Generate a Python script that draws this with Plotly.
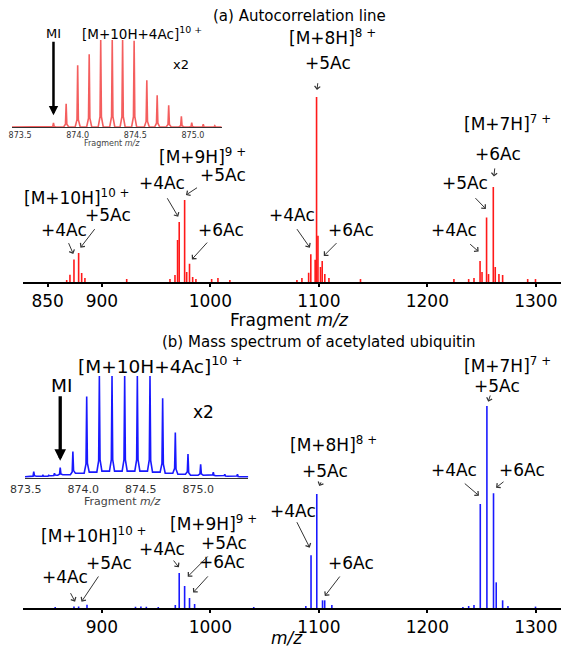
import plotly.graph_objects as go

W, H = 561, 650
FONT = "DejaVu Sans"

# ---------------- data ----------------
# (a) autocorrelation line: peak positions (m/z) and relative intensities
A_MZ = [867.6, 870.6, 874.3, 878.6, 881.4, 884.4, 922.9,
        962.8, 967.4, 969.8, 971.3, 976.3, 978.2, 980.8, 983.7, 986.7, 1001.2, 1007.0, 1018.0,
        1079.8, 1084.4, 1090.6, 1092.6, 1096.6, 1097.9, 1099.2, 1101.5, 1103.1, 1105.5, 1109.3, 1138.4,
        1224.5, 1238.1, 1243.0, 1248.6, 1250.4, 1254.6, 1256.4, 1260.8, 1262.6, 1266.0, 1269.4, 1292.5, 1299.7]
A_INT = [1.1, 3.9, 12.2, 15.7, 4.9, 2.2, 1.6,
         1.6, 3.8, 22.7, 32.4, 44.3, 5.4, 9.9, 2.7, 1.6, 1.6, 2.2, 1.1,
         1.1, 2.2, 5.0, 15.0, 12.0, 100.0, 25.0, 8.1, 11.4, 4.3, 2.2, 1.6,
         1.6, 1.6, 2.2, 11.4, 5.4, 34.8, 4.3, 51.4, 8.1, 4.3, 3.8, 1.6, 1.6]

# (b) mass spectrum of acetylated ubiquitin
B_MZ = [857.0, 874.3, 878.6, 886.3, 931.0, 936.0, 941.0, 952.0,
        967.7, 971.3, 976.3, 980.8, 985.5, 1040.0,
        1088.0, 1092.8, 1098.1, 1103.4, 1105.4, 1112.0,
        1232.8, 1238.1, 1243.0, 1248.8, 1254.9, 1261.0, 1263.5, 1269.4, 1274.3, 1299.7]
B_INT = [0.5, 0.8, 0.8, 1.6, 0.6, 0.7, 0.6, 0.5,
         1.5, 17.3, 10.9, 5.0, 2.0, 0.5,
         1.0, 26.1, 56.4, 3.8, 3.8, 1.5,
         0.5, 1.0, 1.5, 51.5, 100.0, 56.8, 12.7, 3.8, 1.0, 0.7]

# insets: isotope distribution of [M+10H+4Ac]10+ (x2)
A_ISO_MZ = [873.79, 873.90, 874.00, 874.10, 874.20, 874.30, 874.39, 874.49,
            874.60, 874.69, 874.79, 874.90, 874.99, 875.09, 875.19]
A_ISO_INT = [4.6, 26.8, 71.0, 83.6, 100, 100, 100, 99.0, 53.7, 36.4, 25.0, 12.3, 5.0, 3.1, 1.5]

B_ISO_MZ = [873.57, 873.65, 873.70, 873.75, 873.80, 873.91, 874.03, 874.14, 874.25, 874.36,
            874.47, 874.58, 874.69, 874.80, 874.91, 875.02, 875.13, 875.23, 875.34]
B_ISO_INT = [6.5, 3.0, 3.0, 5.0, 10.5, 26.1, 79.9, 100, 100, 100,
             100, 100, 78.2, 44.7, 23.8, 13.7, 5.9, 3.9, 3.9]
B_ISO_FLOOR = [1.5, 2.0, 2.0, 2.5, 3.0, 3.5, 5.0, 6.0, 7.0, 7.0,
               7.0, 7.0, 6.0, 5.0, 4.0, 3.0, 3.0, 2.5, 2.0, 1.5]

A_TICKS = [850, 900, 1000, 1100, 1200, 1300]
B_TICKS = [900, 1000, 1100, 1200, 1300]
INSET_TICKS = [873.5, 874.0, 874.5, 875.0]

MI_A = 873.79
MI_B = 873.80

# ---------------- helpers ----------------
def P(x, y):
    return x / W, 1 - y / H


def sticks(mz, inten):
    xs, ys = [], []
    for m, v in zip(mz, inten):
        xs += [m, m, None]
        ys += [0, v, None]
    return xs, ys


PROFILE = [(-0.022, 0.0), (-0.006, 0.12), (0.0, 1.0), (0.006, 0.12), (0.022, 0.0)]


def profile(mz, inten, floors, x0, x1):
    xs, ys = [x0], [floors[0]]
    for i, (m, v) in enumerate(zip(mz, inten)):
        fl, fr = floors[i], floors[i + 1]
        for dx, f in PROFILE:
            base = fl if dx <= 0 else fr
            xs.append(m + dx)
            ys.append(base + f * (v - base))
    xs.append(x1)
    ys.append(floors[-1])
    return xs, ys


X_RANGE = [827.6, 1323.2]
XDOM = [23.3 / W, 1.0]
A_YDOM = [1 - 282 / H, 1 - 30 / H]
A_YR = [0, 252 / 1.85]
B_YDOM = [1 - 608 / H, 1 - 350 / H]
B_YR = [0, 258 / 2.02]
IA_XR = [873.43, 875.25]
IA_XDOM = [12 / W, 221.7 / W]
IA_YDOM = [1 - 127 / H, 1 - 40 / H]
IB_XR = [873.494, 875.434]
IB_XDOM = [25 / W, 248.3 / W]
IB_YDOM = [1 - 478.3 / H, 1 - 376 / H]

fig = go.Figure()

xa, ya = sticks(A_MZ, A_INT)
fig.add_trace(go.Scatter(x=xa, y=ya, mode="lines", line=dict(color="rgba(255,0,0,0.9)", width=1.6),
                         xaxis="x", yaxis="y", hoverinfo="skip"))
xb, yb = sticks(B_MZ, B_INT)
fig.add_trace(go.Scatter(x=xb, y=yb, mode="lines", line=dict(color="rgba(0,0,255,0.9)", width=1.6),
                         xaxis="x2", yaxis="y2", hoverinfo="skip"))
xia, yia = profile(A_ISO_MZ, A_ISO_INT, [0.0] * (len(A_ISO_MZ) + 1), IA_XR[0], IA_XR[1])
fig.add_trace(go.Scatter(x=xia, y=yia, mode="lines", line=dict(color="rgba(240,40,40,0.75)", width=1.6),
                         xaxis="x3", yaxis="y3", hoverinfo="skip"))
xib, yib = profile(B_ISO_MZ, B_ISO_INT, B_ISO_FLOOR, IB_XR[0], IB_XR[1])
fig.add_trace(go.Scatter(x=xib, y=yib, mode="lines", line=dict(color="rgba(0,0,255,0.9)", width=1.6),
                         xaxis="x4", yaxis="y4", hoverinfo="skip"))

main_x = dict(range=X_RANGE, domain=XDOM, showline=True, linecolor="black", linewidth=2,
              ticks="outside", ticklen=3, tickwidth=1.5, tickcolor="black",
              tickfont=dict(size=17, family=FONT, color="black"),
              showgrid=False, zeroline=False, automargin=False)
hidden_y = dict(visible=False, showgrid=False, zeroline=False, automargin=False)
inset_x = dict(showline=True, linecolor="#333", linewidth=1, ticks="",
               tickvals=INSET_TICKS, tickformat=".1f",
               showgrid=False, zeroline=False, automargin=False)

fig.update_layout(
    width=W, height=H, autosize=False,
    margin=dict(l=0, r=0, t=0, b=0, pad=0, autoexpand=False),
    paper_bgcolor="white", plot_bgcolor="rgba(0,0,0,0)", showlegend=False,
    font=dict(family=FONT, color="black"),
    xaxis=dict(main_x, tickvals=A_TICKS, anchor="y"),
    yaxis=dict(hidden_y, domain=A_YDOM, range=A_YR, anchor="x"),
    xaxis2=dict(main_x, tickvals=B_TICKS, anchor="y2"),
    yaxis2=dict(hidden_y, domain=B_YDOM, range=B_YR, anchor="x2"),
    xaxis3=dict(inset_x, range=IA_XR, domain=IA_XDOM, anchor="y3",
                tickfont=dict(size=8, family=FONT, color="#333")),
    yaxis3=dict(hidden_y, domain=IA_YDOM, range=[0, 100], anchor="x3"),
    xaxis4=dict(inset_x, range=IB_XR, domain=IB_XDOM, anchor="y4",
                tickfont=dict(size=11, family=FONT, color="#333")),
    yaxis4=dict(hidden_y, domain=IB_YDOM, range=[0, 100], anchor="x4"),
)

# ---------------- text labels (left x px, centre y px, size) ----------------
LABELS = [
    ("(a) Autocorrelation line", 211, 16.5, 15),
    ("[M+8H]<sup>8 +</sup>", 286.7, 36.7, 17),
    ("+5Ac", 303, 63.3, 17),
    ("[M+7H]<sup>7 +</sup>", 461.7, 122.7, 17),
    ("+6Ac", 473, 154, 17),
    ("[M+9H]<sup>9 +</sup>", 157, 156, 17),
    ("+5Ac", 197.5, 175, 17),
    ("+4Ac", 137, 183, 17),
    ("+5Ac", 440, 183.3, 17),
    ("[M+10H]<sup>10 +</sup>", 21.5, 196.7, 17),
    ("+5Ac", 83, 215, 17),
    ("+4Ac", 266.5, 215, 17),
    ("+4Ac", 39, 230, 17),
    ("+6Ac", 196, 230, 17),
    ("+6Ac", 326, 230, 17),
    ("+4Ac", 429, 230, 17),
    ("(b) Mass spectrum of acetylated ubiquitin", 160, 341.7, 15),
    ("[M+7H]<sup>7 +</sup>", 461.7, 365, 17),
    ("+5Ac", 471.7, 385.5, 17),
    ("[M+8H]<sup>8 +</sup>", 288, 444, 17),
    ("+5Ac", 300, 470.7, 17),
    ("+4Ac", 429.3, 470, 17),
    ("+6Ac", 496.7, 470, 17),
    ("+4Ac", 267.6, 510.7, 17),
    ("[M+9H]<sup>9 +</sup>", 168, 523.3, 17),
    ("[M+10H]<sup>10 +</sup>", 38.6, 535, 17),
    ("+5Ac", 198.6, 543.3, 17),
    ("+4Ac", 137, 549.3, 17),
    ("+6Ac", 196.8, 561.7, 17),
    ("+5Ac", 84, 562.7, 17),
    ("+6Ac", 326.3, 562.7, 17),
    ("+4Ac", 40, 576.7, 17),
    # inset (a)
    ("[M+10H+4Ac]<sup>10 +</sup>", 80, 33.3, 13.5),
    ("x2", 171, 65, 13),
    # inset (b)
    ("[M+10H+4Ac]<sup>10 +</sup>", 76, 365, 18.5),
    ("x2", 190.7, 411.7, 17),
]
CENTER_LABELS = [
    ("MI", 53.3, 33.3, 13, "black"),
    ("MI", 61, 385, 18.5, "black"),
    ("Fragment <i>m/z</i>", 112, 143.5, 8, "#444"),
    ("Fragment <i>m/z</i>", 122, 501.5, 11, "#444"),
    ("Fragment <i>m/z</i>", 289, 320, 17, "black"),
    ("<i>m/z</i>", 287, 638, 17, "black"),
]

annotations = []
for t, x, y, s in LABELS:
    px, py = P(x, y)
    annotations.append(dict(text=t, x=px, y=py, xref="paper", yref="paper", xanchor="left",
                            yanchor="middle", showarrow=False,
                            font=dict(size=s, family=FONT, color="black")))
for t, x, y, s, c in CENTER_LABELS:
    px, py = P(x, y)
    annotations.append(dict(text=t, x=px, y=py, xref="paper", yref="paper", xanchor="center",
                            yanchor="middle", showarrow=False,
                            font=dict(size=s, family=FONT, color=c)))

# ---------------- arrows: (panel, peak m/z, tail dx, tail dy, xshift, yshift) ----------------
ARROWS = [
    ("a", 874.3, -5.3, -12.3, -0.7, 5.5),
    ("a", 878.6, 15.4, -20, 1.8, 5.3),
    ("a", 971.3, -11.8, -20, -1.0, 5.3),
    ("a", 976.3, 12.6, -8.3, 1.3, 5.0),
    ("a", 980.8, 16.6, -18.3, 2.4, 4.3),
    ("a", 1092.6, -14, -20, -0.9, 6.6),
    ("a", 1097.9, 1, -8.3, 0.4, 7.0),
    ("a", 1103.1, 14.2, -14.3, 1.6, 5.0),
    ("a", 1248.6, -10, -8.7, -1.4, 9.3),
    ("a", 1254.6, -11.9, -12.3, -0.7, 8.7),
    ("a", 1260.8, 1, -9.7, 0.6, 10.3),
    ("b", 874.3, -5.3, -10, 1.1, 4.7),
    ("b", 878.6, 17.9, -26.7, 2.9, 4.7),
    ("b", 971.3, -6.5, -8.3, -0.3, 5.7),
    ("b", 976.3, 21.5, -21.7, 3.1, 9.3),
    ("b", 980.8, 16.1, -17.7, 3.6, 5.3),
    ("b", 1092.8, -13.6, -27, -1.3, 7.6),
    ("b", 1098.1, 2.4, -5.3, 2.5, 8.0),
    ("b", 1103.4, 16.1, -21, 2.3, 4.3),
    ("b", 1248.8, -15.7, -13.4, -1.3, 8.3),
    ("b", 1254.9, 2.4, -7.7, 1.4, 4.3),
    ("b", 1261.0, 9, -7, 2.5, 5.6),
]
for panel, m, dx, dy, xs, ys in ARROWS:
    if panel == "a":
        h = A_INT[A_MZ.index(m)]
        xr, yr = "x", "y"
    else:
        h = B_INT[B_MZ.index(m)]
        xr, yr = "x2", "y2"
    annotations.append(dict(text="", x=m, y=h, xref=xr, yref=yr, showarrow=True,
                            ax=dx, ay=dy, xshift=xs, yshift=ys,
                            arrowhead=4, arrowsize=1.1, arrowwidth=1, arrowcolor="#333"))

# MI arrows in insets
annotations.append(dict(text="", x=MI_A, y=A_ISO_INT[A_ISO_MZ.index(MI_A)], xref="x3", yref="y3",
                        showarrow=True, ax=0, ay=-75, yshift=7.7,
                        arrowhead=2, arrowsize=0.75, arrowwidth=2.5, arrowcolor="black"))
annotations.append(dict(text="", x=MI_B, y=B_ISO_INT[B_ISO_MZ.index(MI_B)], xref="x4", yref="y4",
                        showarrow=True, ax=0, ay=-66, yshift=6.7,
                        arrowhead=2, arrowsize=0.7, arrowwidth=3.3, arrowcolor="black"))

fig.update_layout(annotations=annotations)

fig.write_html(
    "out.html",
    config={"displayModeBar": False, "responsive": False},
    post_script="document.body.style.margin='0';document.documentElement.style.overflow='hidden';",
)
